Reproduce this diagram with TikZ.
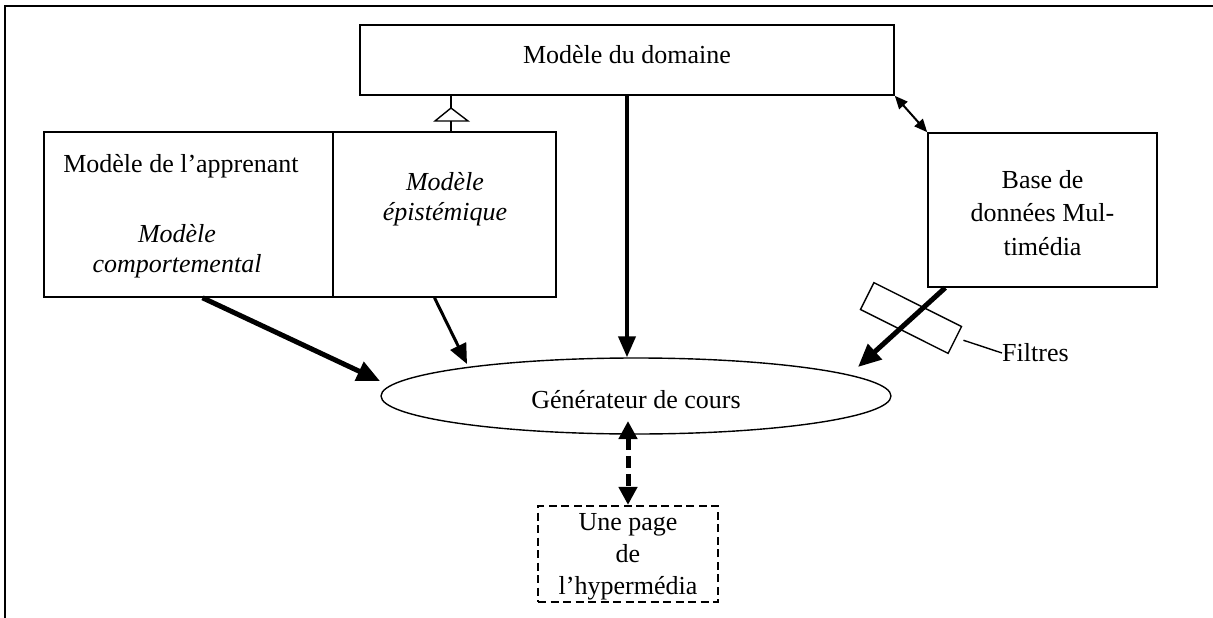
\documentclass[tikz,border=0pt]{standalone}
\usepackage{fontspec}
\setmainfont{Liberation Serif}
\usetikzlibrary{arrows.meta,shapes.geometric}
\begin{document}
\begin{tikzpicture}[x=1pt,y=-1pt,font=\fontsize{26}{32}\selectfont,
  box/.style={draw,line width=1.6,inner sep=0},
  flow/.style={line width=#1,-{Triangle[length=23pt,width=20pt]}}]
\useasboundingbox (0,0) rectangle (1213,618);
\draw[line width=2] (5,618) -- (5,6) -- (1213,6);
% boxes
\node[box,minimum width=534,minimum height=70] (dom) at (627,60) {};
\node (domt) at (627,55) {Modèle du domaine};
\node[box,minimum width=289,minimum height=165] (app) at (188.5,214.5) {};
\node[box,minimum width=223,minimum height=165] (epi) at (444.5,214.5) {};
\node (appt) at (181,166) {Modèle de l’apprenant};
\node[align=center,font=\fontsize{26}{30}\selectfont\itshape] (comp) at (177,251) {Modèle\\comportemental};
\node[align=center,font=\fontsize{26}{30}\selectfont\itshape] (epit) at (445,199) {Modèle\\épistémique};
\node[box,minimum width=229,minimum height=154] (base) at (1042.5,210) {};
\node[align=center,font=\fontsize{26}{33.5}\selectfont] (baset) at (1042.5,213) {Base de\\données Mul-\\timédia};
\node[draw,ellipse,line width=1.4,minimum width=510,minimum height=76] (ell) at (636,396) {};
\node (ellt) at (636,400) {Générateur de cours};
\node[box,line width=2.2,dash pattern=on 8pt off 4.5pt,minimum width=180,minimum height=96] (page) at (628,554) {};
\node[align=center] (paget) at (628,557) {Une page\\de\\l’hypermédia};
\node[draw,line width=1.4,minimum width=98,minimum height=30,rotate=-26.6] (filt) at (911,318) {};
\node[anchor=west,inner sep=0] (filtt) at (1002,353) {Filtres};
% generalisation
\coordinate (gen) at (451,108);
\draw[line width=1.4] (dom.south -| gen) -- (gen);
\draw[line width=1.4] (gen) -- ++(-16,13) -- ++(33,0) -- cycle;
\draw[line width=1.4] ([yshift=-13pt]gen) -- (epi.north -| gen);
% arrows
\coordinate (a1) at (380,381);
\coordinate (a2) at (467,364);
\coordinate (a3) at (858,367);
\coordinate (a4) at (628,421);
\draw[flow=5] ([xshift=14pt]app.south) -- (a1);
\draw[flow=3,-{Triangle[length=20pt,width=17pt]}] ([xshift=-10pt]epi.south) -- (a2);
\draw[flow=4,-{Triangle[length=21pt,width=17pt]}] (dom.south) -- (dom.south |- ell.north);
\draw[flow=5] ([xshift=18pt]base.south west) -- (a3);
\draw[line width=2,{Triangle[length=13pt,width=11pt]}-{Triangle[length=13pt,width=11pt]}] (dom.south east) -- (base.north west);
\draw[line width=5,dash pattern=on 12pt off 6pt,{Triangle[length=18pt,width=18pt]}-{Triangle[length=18pt,width=18pt]}] (a4) -- (page.north);
\draw[line width=1.4] ([xshift=8pt]filt.east) -- (filtt.west);
\end{tikzpicture}
\end{document}
